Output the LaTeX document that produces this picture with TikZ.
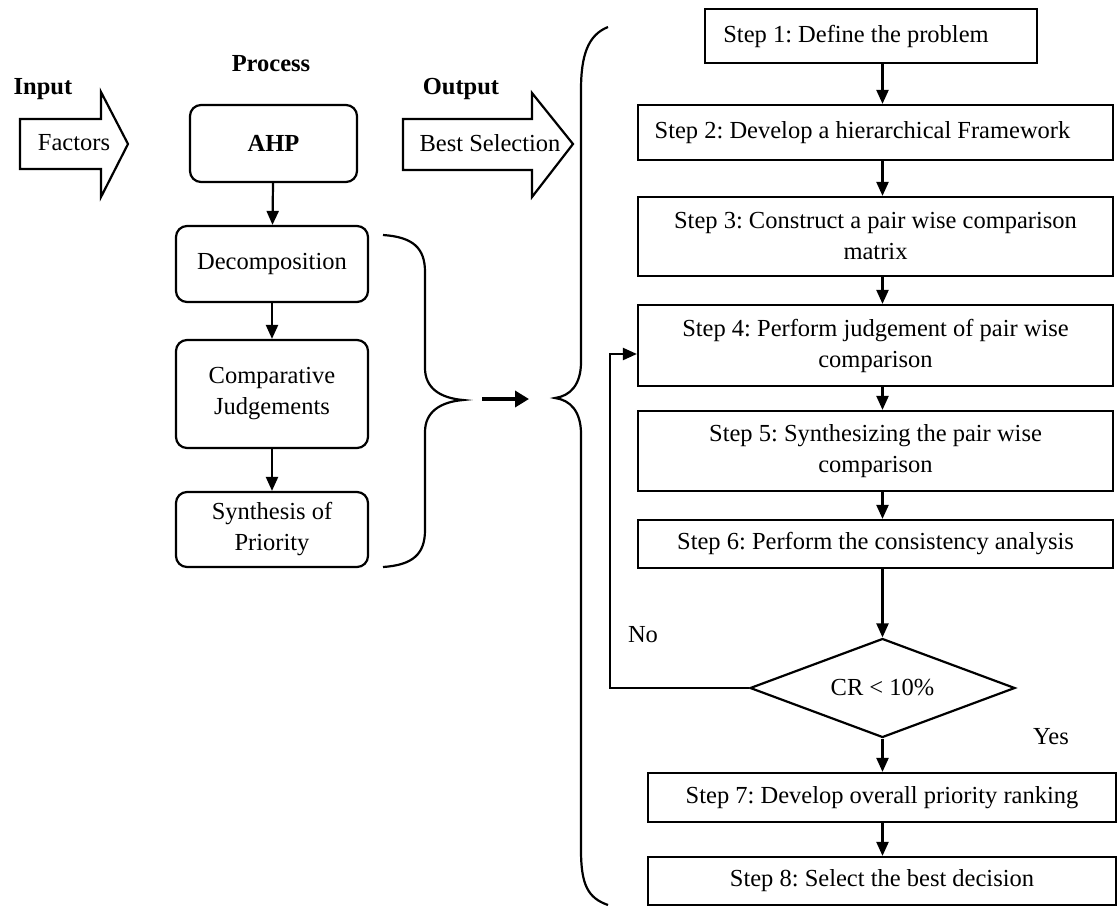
\documentclass[tikz,border=0pt]{standalone}
\usepackage{fontspec}
\setmainfont{Liberation Serif}
\usetikzlibrary{arrows.meta,shapes.geometric,calc}
\begin{document}
\frenchspacing
\begin{tikzpicture}[x=1pt,y=-1pt,
  txt/.style={font=\fontsize{24.5}{31}\selectfont, inner sep=0pt, align=center},
  hdr/.style={txt, font=\fontsize{24.5}{31}\selectfont\bfseries},
  rbox/.style={txt, draw, line width=2.2pt, rounded corners=11pt},
  sbox/.style={txt, draw, line width=2.2pt},
  arr/.style={line width=2.2pt, -{Triangle[length=14pt,width=12pt]}},
  bigarr/.style={line width=4.5pt, -{Triangle[length=14pt,width=16pt]}},
  brace/.style={line width=2.2pt},
  blockarrow/.style={draw, line width=2.2pt, line join=miter},
]
\useasboundingbox (0,0) rectangle (1119,911);

% headings
\node[hdr] (input) at (43,89) {Input};
\node[hdr] (process) at (271,64) {Process};
\node[hdr] (output) at (461,89) {Output};

% block arrows
\draw[blockarrow] (20,119) -- (101,119) -- (101,92) -- (128,144) -- (101,197) -- (101,169) -- (20,169) -- cycle;
\node[txt] (factors) at (74,143) {Factors};
\draw[blockarrow] (403,119) -- (532,119) -- (532,93) -- (573,144) -- (532,197) -- (532,170) -- (403,170) -- cycle;
\node[txt] (best) at (490,143) {Best Selection};

% process column
\node[rbox, minimum width=167pt, minimum height=77pt] (ahp) at (273.5,143.5) {\bfseries AHP};
\node[rbox, minimum width=192pt, minimum height=76pt] (dec) at (272,264) {Decomposition};
\node[rbox, minimum width=192pt, minimum height=108pt] (comp) at (272,394) {Comparative\\Judgements};
\node[rbox, minimum width=192pt, minimum height=75pt] (syn) at (272,529.5) {Synthesis of\\Priority};

\draw[arr] (ahp) -- (dec);
\draw[arr] (dec) -- (comp);
\draw[arr] (comp) -- (syn);

% small brace
\coordinate (bc1) at (463,400);
\draw[brace] (383,235) .. controls (413,237) and (425,248) .. (425,272) -- (425,368)
  .. controls (425,388) and (440,398) .. (bc1)
  .. controls (440,402) and (425,412) .. (425,432) -- (425,530)
  .. controls (425,554) and (413,565) .. (383,567);

% big brace
\coordinate (bc2) at (555,398);
\draw[brace] (608,27) .. controls (588,35) and (581,55) .. (581,90) -- (581,362)
  .. controls (581,385) and (570,396) .. (bc2)
  .. controls (570,400) and (581,411) .. (581,434) -- (581,850)
  .. controls (581,885) and (588,898) .. (608,905);

\draw[bigarr] ($(bc1)+(19,-1)$) -- ($(bc2)+(-26,1)$);

% steps
\node[sbox, minimum width=332pt, minimum height=54pt] (s1) at (871,36) {\hspace*{-30pt}Step 1: Define the problem};
\node[sbox, minimum width=475pt, minimum height=55pt] (s2) at (875.5,132.5) {\hspace*{-26pt}Step 2: Develop a hierarchical Framework};
\node[sbox, minimum width=475pt, minimum height=79pt] (s3) at (875.5,236.5) {Step 3: Construct a pair wise comparison\\matrix};
\node[sbox, minimum width=475pt, minimum height=81pt] (s4) at (875.5,345.5) {Step 4: Perform judgement of pair wise\\comparison};
\node[sbox, minimum width=475pt, minimum height=80pt] (s5) at (875.5,451) {Step 5: Synthesizing the pair wise\\comparison};
\node[sbox, minimum width=475pt, minimum height=48pt] (s6) at (875.5,544) {Step 6: Perform the consistency analysis};
\node[txt, draw, line width=2.2pt, shape=diamond, aspect=2.6, minimum width=265pt, minimum height=99pt] (cr) at (882.5,688) {CR < 10\%};
\node[sbox, minimum width=468pt, minimum height=49pt] (s7) at (882,797.5) {Step 7: Develop overall priority ranking};
\node[sbox, minimum width=468pt, minimum height=48pt] (s8) at (882,881) {Step 8: Select the best decision};

\draw[arr] (s1.south -| cr.north) -- (s2.north -| cr.north);
\draw[arr] (s2.south -| cr.north) -- (s3.north -| cr.north);
\draw[arr] (s3.south -| cr.north) -- (s4.north -| cr.north);
\draw[arr] (s4.south -| cr.north) -- (s5.north -| cr.north);
\draw[arr] (s5.south -| cr.north) -- (s6.north -| cr.north);
\draw[arr] (s6.south -| cr.north) -- (cr.north);
\draw[arr] (cr.south) -- (s7.north -| cr.south);
\draw[arr] (s7.south -| cr.south) -- (s8.north -| cr.south);

% loop back
\coordinate (lp) at (610,354);
\draw[arr] (cr.west) -| (lp) -- (s4.west |- lp);

\node[txt] (no) at (643,635) {No};
\node[txt] (yes) at (1051,737) {Yes};
\end{tikzpicture}
\end{document}
